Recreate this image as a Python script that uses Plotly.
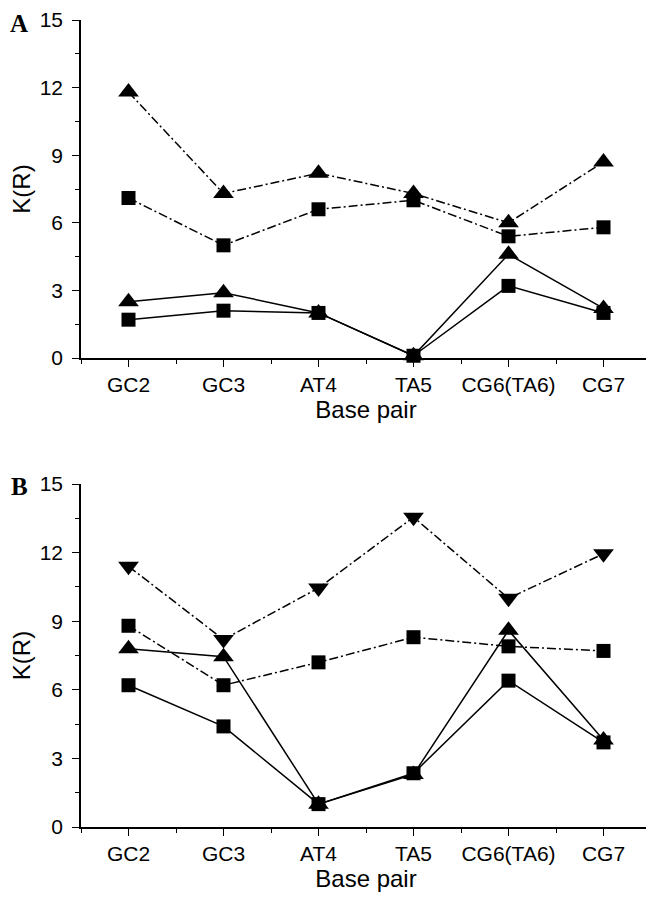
import plotly.graph_objects as go

categories = ["GC2", "GC3", "AT4", "TA5", "CG6(TA6)", "CG7"]

# Panel A
a_tri_dash = [11.8, 7.3, 8.2, 7.3, 6.0, 8.7]
a_sq_dash = [7.1, 5.0, 6.6, 7.0, 5.4, 5.8]
a_tri_solid = [2.5, 2.9, 2.0, 0.1, 4.6, 2.2]
a_sq_solid = [1.7, 2.1, 2.0, 0.1, 3.2, 2.0]

# Panel B
b_tridown_dash = [11.4, 8.2, 10.45, 13.55, 10.0, 11.95]
b_sq_dash = [8.8, 6.2, 7.2, 8.3, 7.9, 7.7]
b_tri_solid = [7.8, 7.45, 1.0, 2.3, 8.6, 3.8]
b_sq_solid = [6.2, 4.4, 1.0, 2.35, 6.4, 3.7]

y_ticks = [0, 3, 6, 9, 12, 15]

xpos = list(range(len(categories)))
DASHDOT = "9px,3px,2px,3px"

# figure is offset by the page's 8px body margin
W, H = 646, 884
ML, MR = 73, 3

fig = go.Figure()

def add(y, symbol, dash, xa, ya, size):
    fig.add_trace(go.Scatter(
        x=xpos, y=y, mode="lines+markers",
        line=dict(color="black", width=1.5, dash=dash),
        marker=dict(symbol=symbol, size=size, color="black"),
        xaxis=xa, yaxis=ya, showlegend=False, cliponaxis=False,
    ))

add(a_tri_dash, "triangle-up", DASHDOT, "x", "y", 18)
add(a_sq_dash, "square", DASHDOT, "x", "y", 14)
add(a_tri_solid, "triangle-up", "solid", "x", "y", 18)
add(a_sq_solid, "square", "solid", "x", "y", 14)

add(b_tridown_dash, "triangle-down", DASHDOT, "x2", "y2", 18)
add(b_sq_dash, "square", DASHDOT, "x2", "y2", 14)
add(b_tri_solid, "triangle-up", "solid", "x2", "y2", 18)
add(b_sq_solid, "square", "solid", "x2", "y2", 14)

tickfont = dict(family="Liberation Sans, Arial, sans-serif", size=21, color="black")
titlefont = dict(family="Liberation Sans, Arial, sans-serif", size=24, color="black")

def xaxis(anchor):
    return dict(
        anchor=anchor, domain=[0, 1], range=[-0.5, 5.5],
        tickmode="array", tickvals=xpos, ticktext=categories,
        ticks="outside", ticklen=7, tickwidth=1.3, tickcolor="black",
        minor=dict(tickmode="array", tickvals=[-0.5, 0.5, 1.5, 2.5, 3.5, 4.5, 5.5],
                   ticks="outside", ticklen=4, tickwidth=1.3, tickcolor="black"),
        showline=True, linecolor="black", linewidth=1.5,
        showgrid=False, zeroline=False, tickfont=tickfont,
        ticklabeloverflow="allow",
        title=dict(text="Base pair", font=titlefont, standoff=6),
    )

def yaxis(anchor, domain):
    return dict(
        anchor=anchor, domain=domain, range=[0, 15],
        tickmode="array", tickvals=y_ticks,
        ticks="outside", ticklen=7, tickwidth=1.3, tickcolor="black",
        minor=dict(tickmode="array", tickvals=[1.5, 4.5, 7.5, 10.5, 13.5],
                   ticks="outside", ticklen=4, tickwidth=1.3, tickcolor="black"),
        showline=True, linecolor="black", linewidth=1.5,
        showgrid=False, zeroline=False, tickfont=tickfont,
        ticklabeloverflow="allow", ticklabelstandoff=5,
        title=dict(text="K(R)", font=titlefont, standoff=8),
    )

def dom(top_px, bottom_px):
    return [1 - bottom_px / H, 1 - top_px / H]

fig.update_layout(
    width=W, height=H,
    margin=dict(l=ML, r=MR, t=0, b=0, autoexpand=False),
    paper_bgcolor="white", plot_bgcolor="white",
    xaxis=xaxis("y"),
    yaxis=yaxis("x", dom(12, 350)),
    xaxis2=xaxis("y2"),
    yaxis2=yaxis("x2", dom(476, 819)),
)

pw = W - ML - MR
serif = dict(family="Liberation Serif, Times New Roman, serif", size=25, color="black")
for label, (px, py) in [("A", (11, 15)), ("B", (11, 479))]:
    fig.add_annotation(text="<b>%s</b>" % label, x=(px - ML) / pw, y=1 - py / H,
                       xref="paper", yref="paper", showarrow=False,
                       xanchor="center", yanchor="middle", font=serif)

fig.write_html("out.html")
